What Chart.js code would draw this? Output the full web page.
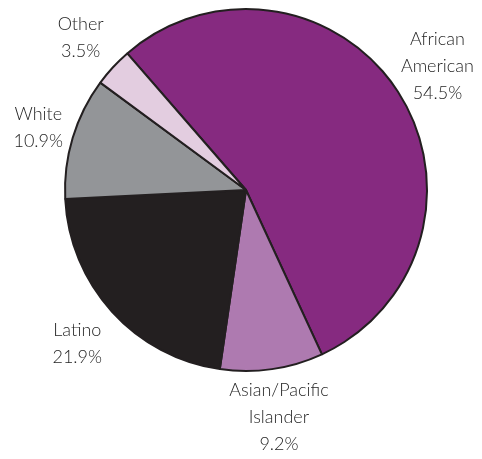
<!DOCTYPE html>
<html>
<head>
<meta charset="utf-8">
<script src="https://cdn.jsdelivr.net/npm/chart.js@4"></script>
<style>
  html, body { margin: 0; padding: 0; background: #fff; }
  #wrap { width: 482px; height: 459px; position: relative; }
</style>
</head>
<body>
<div id="wrap"><canvas id="raceChart"></canvas></div>
<script>
const groups = [["African", "American"], ["Asian/Pacific", "Islander"], ["Latino"], ["White"], ["Other"]];
const shares = [54.5, 9.2, 21.9, 10.9, 3.5];
const sliceColors = ["#862a80", "#ae7ab0", "#231f20", "#939598", "#e3cde0"];

// distance of each label block from the pie edge, along the slice's middle
const labelGap = [47, 49, 47, 36, 44];

const outsideLabels = {
  id: "outsideLabels",
  afterDatasetsDraw(chart) {
    const { ctx } = chart;
    const arcs = chart.getDatasetMeta(0).data;
    ctx.save();
    ctx.font = "300 18px Lato, 'Open Sans', sans-serif";
    ctx.fillStyle = "#1f1f1f";
    ctx.textAlign = "center";
    ctx.textBaseline = "middle";
    const lineH = 27;
    arcs.forEach((arc, i) => {
      const mid = (arc.startAngle + arc.endAngle) / 2;
      const d = arc.outerRadius + labelGap[i];
      const x = arc.x + Math.cos(mid) * d;
      const y = arc.y + Math.sin(mid) * d;
      const lines = [...groups[i], shares[i].toFixed(1) + "%"];
      const top = y - (lines.length - 1) * lineH / 2;
      lines.forEach((t, j) => ctx.fillText(t, x, top + j * lineH));
    });
    ctx.restore();
  }
};

new Chart(document.getElementById("raceChart"), {
  type: "pie",
  data: {
    labels: groups.map(g => g.join(" ")),
    datasets: [{
      data: shares,
      backgroundColor: sliceColors,
      borderColor: "#231f20",
      borderWidth: 2
    }]
  },
  options: {
    responsive: true,
    maintainAspectRatio: false,
    animation: false,
    rotation: -41,
    layout: { padding: { top: 8, bottom: 87, left: 64, right: 54 } },
    plugins: {
      legend: { display: false },
      tooltip: { enabled: false }
    }
  },
  plugins: [outsideLabels]
});
</script>
</body>
</html>
